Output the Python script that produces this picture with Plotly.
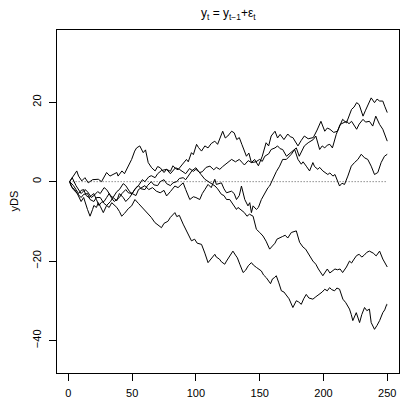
import plotly.graph_objects as go

# Five random-walk paths (time step, value)
series_A = [(1,0),(4,1.4),(6.6,2.7),(8,1.4),(10.5,0.2),(13,1.0),(15.6,-0.3),(19,0.5),(23.5,0.6),(26,0.0),
            (28.7,1.4),(30,2.3),(32.6,1.4),(35,1.8),(38,2.3),(39,1.4),(42,2.7),(44,2.0),(47,3.9),(49.6,5.6),
            (52,7.7),(53.5,8.5),(56,9.0),(58.7,7.3),(60.5,8.0),(62.6,4.8),(65.3,3.5),(68,2.7),(70,3.8),(72,3.5),
            (75,2.3),(77,3.1),(80,2.6),(82,4.0),(84,3.3),(86,3.0),(89,4.2),(92.6,5.6),(94,5.0),(96.5,7.3),
            (98,6.8),(100.5,9.4),(102,8.6),(104.4,7.7),(107,9.0),(109.5,8.5),(112,9.6),(114.8,10.2),(117,9.4),(119,11.3),
            (121,12.7),(123,11.0),(125,11.5),(128,12.7),(130,12.3),(132,10.6),(134,11.1),(136,9.4),(139.6,6.4),(141.5,7.2),
            (143.5,4.8),(146,5.6),(149,4.0),(152,6.4),(155,9.8),(157,9.0),(159,11.5),(162,12.7),(164,11.0),(166,11.9),
            (169,10.6),(172,12.0),(174,11.3),(176,11.1),(178,10.2),(180,9.0),(182.6,10.4),(185,11.5),(188,10.8),(192,11.1),
            (195,13.0),(198,15.2),(201,12.7),(203,13.5),(205,13.2),(208,12.4),(211,12.7),(213,14.0),(215,15.7),(218,14.8),
            (222,18.2),(224,18.8),(226,19.9),(228,19.4),(231,16.5),(233,18.0),(235,19.4),(237.4,21.1),(240,19.9),(242,20.8),
            (244,20.3),(246.5,20.3),(248,19.0),(250,17.4)]

series_B = [(1,0),(3,1),(6,-1),(10,-3),(13,-2),(15,-2.5),(18,-4),(20,-3.5),(23,-2.5),(25,-3),(28,-1.5),(30,-2),
            (33,-3.5),(35,-4),(38,-2.5),(40,-2),(43,-0.5),(45,-1),(48,-2.5),(50,-3),(53,-1.5),(55,-1),(58,0.5),(60,0),
            (63,1.2),(65,1.5),(68,1),(70,2),(73,2.8),(77,3.1),(80,2),(82,2.8),(84,3.5),(87,3.1),(90,2.3),(92,2),
            (95,3.3),(98,2.6),(100,3.1),(103,2.3),(105,2.5),(108,3.6),(111,3.9),(114,3),(116,3.6),(118.7,3.1),(121,3.8),
            (125,4.8),(128,5.6),(131,5),(134,5.6),(136,4.9),(138,4.2),(141,5.3),(143.5,4.8),(147,5),(150,5.6),(152,5.1),
            (154,6.4),(157,7),(159,8.1),(162,8.5),(164,9),(166,8.3),(168,8.1),(171,6.4),(174,7.2),(176,7.7),(178.7,8.5),
            (181,6.4),(183,7.8),(185,9),(188,9.8),(192,10.6),(194,11.5),(197,8.1),(199,9),(201,8.5),(203,9.2),(205,9.4),
            (207,8.5),(210,11.9),(213,14.4),(215,14.8),(218,15.2),(220,14.6),(222,15.2),(226,13.2),(228,14.5),(231,15.7),
            (233,15),(236,15.2),(238.6,14),(241,16.5),(244,14.4),(246.5,13.2),(248,12),(250,10.2)]

series_C = [(1,0),(3,-1.5),(5,-2),(7,-3),(10,-4),(12,-3.2),(15,-3),(17,-4.5),(20,-5),(22,-4),(25,-4),(28,-5.5),
            (30,-6),(33,-5),(35,-4),(38,-4.8),(40,-3),(43,-4),(45,-5),(48,-4),(50,-3),(53,-3.5),(55,-2),(58,-1.5),
            (60,-1),(63,-2),(66,-1.5),(69,-2.4),(72,-2.8),(75,-2.2),(77,-3.6),(80,-2.5),(83.5,-1.1),(86,-1.5),(90,-0.3),
            (92,-2),(95.2,-4.5),(98,-3.8),(100,-4),(103,-4.5),(105,-3),(107,-2),(109.5,-0.7),(112,-1.5),(114.8,0.6),
            (116,-0.7),(118,-0.5),(120,-0.3),(122,-1.8),(124,-2.8),(127.9,-2.4),(130,-3),(131.8,-4.5),(134,-3.5),
            (135.7,-1.1),(138.3,-4.5),(140.8,-6.1),(142.2,-5.3),(143.5,-7.8),(144.8,-6.1),(147.4,-7),(149,-6.5),
            (151.3,-4.5),(154,-2.8),(156.5,-1.5),(157.8,-1.1),(160,0.5),(161.7,1.4),(163,2.5),(165.6,3.9),(168,5.6),
            (170.9,5.6),(173,6.2),(174.8,6.9),(177.4,8.1),(180,5.6),(182.6,4.4),(184,5),(186.5,3.9),(189.1,2.7),
            (191.7,4.8),(193,3.8),(195.6,3.1),(197,3.6),(199.5,2.7),(201,2.4),(203.4,1.8),(205,2.2),(207.4,1.4),
            (209,1.8),(210.5,0.5),(212.6,-1.1),(214.5,-0.4),(216.5,-0.7),(219.1,1.4),(221.8,3.9),(224.3,4.8),(227,5.6),
            (229.6,6.9),(232.2,6),(234.7,5.6),(237.4,3.9),(240,1.8),(242.6,2.3),(245.2,4.8),(247.8,6.4),(250,6.9)]

series_D = [(1,0),(4,-1),(6,-2),(8,-3),(10,-2.2),(12,-2),(14,-3.5),(16,-4),(18,-3.5),(20,-3),(22,-4.5),(24,-6),
            (26,-5.2),(28,-5),(30,-4),(32,-3),(34,-4.2),(36,-5),(38,-4.5),(40,-4),(42,-3),(45,-2),(47,-2.8),(50,-3),
            (52,-2),(55,-1),(57,-1.8),(60,-2),(62,-1),(65,0),(67,-0.8),(70,-1),(72,0),(75,0.5),(77,-0.5),(80,-1),
            (82,-0.3),(85,0),(87,0.8),(90,1),(92,0.5),(95,2),(97,2.8),(100,3.5),(102,2.5),(104,1.8),(107,0.6),(109,0.2),
            (112,-0.5),(115,-1.1),(117,-1.8),(120,-3.2),(122,-3.5),(124,-4.5),(126.5,-4.5),(128,-5.3),(131.8,-7),
            (133,-6.5),(136,-7.2),(138,-7.8),(140,-8.7),(142,-8.2),(144.8,-8.7),(147.4,-12),(150,-12.8),(152.6,-13.7),
            (155,-15),(157.8,-17),(160,-16.2),(162,-15.5),(163.5,-14.5),(165.6,-14.1),(168,-13.8),(170,-13.5),
            (172,-14.2),(174.8,-12.8),(178.7,-12.4),(181.3,-15.3),(184,-16.5),(186,-17),(189,-18.5),(191.7,-20),
            (194,-20.8),(196,-22),(199.5,-23.7),(201,-22.8),(203,-22),(205,-23),(207.4,-22.5),(209,-22),(211,-22.2),
            (213,-22),(215,-22.9),(218,-21.5),(220.4,-20),(222,-20.5),(224,-19.5),(226,-18.6),(228,-18.3),(230,-19),
            (232,-18.5),(234,-17.8),(236,-17.5),(239,-18),(241.3,-18.7),(244,-17.5),(246.5,-19.5),(249,-21.2),(250,-21.5)]

series_E = [(1,0),(2,-1),(4,-2),(7,-3),(10,-5),(12,-4),(15,-7),(17,-8.7),(19,-7),(20,-6),(22,-6.5),(23.5,-5.3),
            (25,-6.2),(27.4,-7.8),(30,-6),(32,-6.5),(34,-5.3),(36,-5.8),(38,-6.5),(40,-7.5),(41.8,-8.7),(44,-8),
            (45,-7.5),(47,-6.8),(49.6,-6.1),(52.2,-4.5),(55,-5.5),(57,-6.2),(58.7,-7),(61,-7.6),(63,-8.5),(65,-9),
            (67.8,-10.3),(70,-10.8),(73,-11.6),(75,-10.5),(78,-10),(80,-9),(83.5,-7.8),(85,-8.8),(87,-8.5),(90,-10.7),
            (92,-12),(93,-13),(96.5,-14.9),(99,-14.5),(101,-15.5),(104.4,-15.8),(106,-17),(107,-18),(109.5,-20.4),
            (112,-19.5),(114.8,-18.3),(116,-19),(118.4,-19.5),(120,-20.2),(122.6,-20.8),(124,-20),(126,-19),(129,-17.5),
            (131,-18.5),(132.5,-19.2),(134.4,-20.8),(137,-22.9),(139,-22.3),(141,-21.2),(143.5,-20.4),(145,-21),
            (147.4,-21.6),(149,-22),(151.3,-22.5),(153,-23.5),(155.2,-24.2),(158.5,-25.7),(160,-24.5),(161.5,-24.2),
            (163,-23.7),(165,-25.5),(167,-27.5),(169,-27.8),(171,-28.8),(173,-29.5),(176,-31.7),(178.7,-30),
            (180.5,-30.3),(182.6,-30.9),(184.5,-29.5),(186.5,-28.4),(188.5,-29.3),(191.7,-29.6),(194,-29),(197,-28.4),
            (199,-27.8),(201,-27.1),(203,-27.5),(204.8,-26.7),(206.5,-27.2),(208.7,-27.5),(210.5,-26.8),(212.6,-27.1),
            (215.2,-29.6),(217.5,-30.5),(220.4,-32.1),(221.8,-33.5),(223,-35),(225.7,-33),(227,-34.2),(228.3,-35.5),
            (230,-33.5),(232.2,-31.7),(234,-32.5),(236,-32.1),(237.4,-35.5),(240,-37.2),(242,-36.2),(244,-35),
            (246.5,-33),(248,-32.3),(249.6,-30.9),(250,-31)]

zero_t = [1, 250]
zero_y = [0, 0]

x_ticks = [0, 50, 100, 150, 200, 250]
y_ticks = [-40, -20, 0, 20]

FONT = "Liberation Sans, Arial, sans-serif"

fig = go.Figure()
fig.add_trace(go.Scatter(x=zero_t, y=zero_y, mode="lines",
                         line=dict(color="#555555", width=1, dash="1px,2px"),
                         hoverinfo="skip", showlegend=False))
for s in [series_A, series_B, series_C, series_D, series_E]:
    t = [p[0] for p in s]
    y = [p[1] for p in s]
    fig.add_trace(go.Scatter(x=t, y=y, mode="lines",
                             line=dict(color="black", width=1),
                             showlegend=False))

axis_common = dict(showline=True, mirror=True, linecolor="black", linewidth=1,
                   showgrid=False, zeroline=False, ticks="outside", ticklen=7,
                   tickcolor="black", tickwidth=1,
                   tickfont=dict(family=FONT, size=11, color="black"))

fig.update_layout(
    width=400, height=399,
    margin=dict(l=57, r=1, t=30, b=26),
    paper_bgcolor="white", plot_bgcolor="white",
    xaxis=dict(range=[-8.9, 259.2], tickvals=x_ticks, ticklabelstandoff=3, **axis_common),
    yaxis=dict(range=[-48.2, 38.2], tickvals=y_ticks, tickangle=-90, ticklabelstandoff=4, **axis_common),
    annotations=[
        dict(text="y<sub>t</sub> = y<sub>t\u22121</sub>+\u03b5<sub>t</sub>",
             xref="paper", yref="paper", x=0.5, y=1.0 + 16/343, xanchor="center", yanchor="middle",
             showarrow=False, font=dict(family=FONT, size=12, color="black")),
        dict(text="yDS", xref="paper", yref="paper", x=(13 - 57) / 342, y=0.5,
             xanchor="center", yanchor="middle", textangle=-90, showarrow=False,
             font=dict(family=FONT, size=11, color="black")),
    ],
)

fig.write_html("out.html", config={"displayModeBar": False},
               post_script="document.body.style.margin='0';document.body.style.overflow='hidden';")
